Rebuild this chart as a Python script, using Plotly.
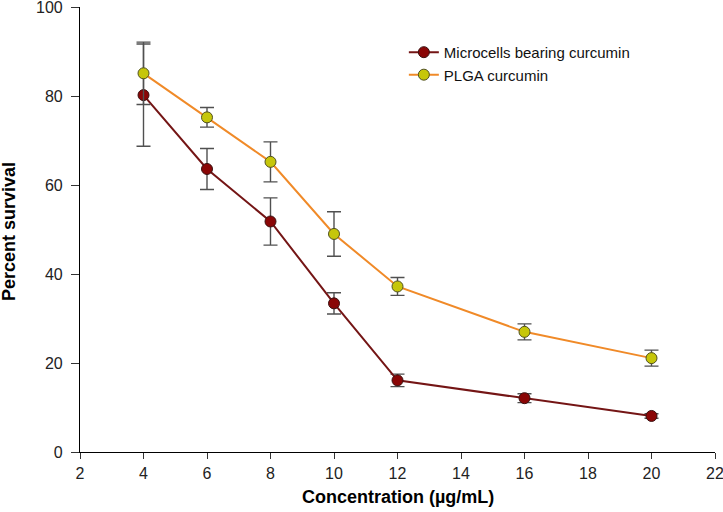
import plotly.graph_objects as go

concentration = [4, 6, 8, 10, 12, 16, 20]
micro_vals = [80.2, 63.6, 51.8, 33.4, 16.1, 12.1, 8.1]
micro_err = [11.5, 4.6, 5.3, 2.4, 1.4, 1.0, 0.5]
plga_vals = [85.1, 75.2, 65.2, 49.0, 37.2, 27.0, 21.1]
plga_err = [7.0, 2.2, 4.5, 5.0, 2.0, 1.8, 1.8]
x_ticks = [2, 4, 6, 8, 10, 12, 14, 16, 18, 20, 22]
y_ticks = [0, 20, 40, 60, 80, 100]

FONT = "Liberation Sans, Arial, sans-serif"

fig = go.Figure()
fig.add_trace(go.Scatter(
    x=concentration, y=micro_vals, name="Microcells bearing curcumin",
    mode="lines+markers",
    line=dict(color="#741515", width=2),
    marker=dict(size=11, color="#8a0606", line=dict(color="#3a1010", width=1)),
    error_y=dict(type="data", array=micro_err, color="#505050", thickness=1.4, width=7),
))
fig.add_trace(go.Scatter(
    x=concentration, y=plga_vals, name="PLGA curcumin",
    mode="lines+markers",
    line=dict(color="#f08a28", width=2),
    marker=dict(size=11, color="#c6c60a", line=dict(color="#505020", width=1)),
    error_y=dict(type="data", array=plga_err, color="#505050", thickness=1.4, width=7),
))

fig.update_layout(
    width=723, height=512,
    margin=dict(l=80, r=8, t=7, b=60, autoexpand=False),
    paper_bgcolor="white", plot_bgcolor="white",
    font=dict(family=FONT, color="#222222"),
    showlegend=True,
    legend=dict(x=0.51, y=0.935, xanchor="left", yanchor="top",
                font=dict(size=15, color="#111111", family=FONT), bgcolor="rgba(0,0,0,0)"),
    xaxis=dict(range=[2, 22], tickvals=x_ticks, showline=True, linecolor="black",
               linewidth=1.2, ticks="outside", ticklen=6, tickcolor="#333333", tickwidth=1.2,
               showgrid=False, zeroline=False, automargin=False, ticklabelstandoff=1,
               ticklabeloverflow="allow",
               tickfont=dict(size=16, color="#222222", family=FONT)),
    yaxis=dict(range=[0, 100], tickvals=y_ticks, showline=True, linecolor="black",
               linewidth=1.2, ticks="outside", ticklen=8, tickcolor="#333333", tickwidth=1.2,
               showgrid=False, zeroline=False, automargin=False, ticklabelstandoff=5,
               ticklabeloverflow="allow",
               tickfont=dict(size=16, color="#222222", family=FONT)),
    annotations=[
        dict(text="<b>Concentration (µg/mL)</b>", xref="paper", yref="paper",
             x=0.5, y=-0.1004, xanchor="center", yanchor="middle", showarrow=False,
             font=dict(size=18, color="black", family=FONT)),
        dict(text="<b>Percent survival</b>", xref="paper", yref="paper",
             x=-0.1129, y=0.495, xanchor="center", yanchor="middle", showarrow=False,
             textangle=-90, font=dict(size=18, color="black", family=FONT)),
    ],
)

fig.write_html("out.html", config={"displayModeBar": False})

# remove the default page margin so the figure sits at the window's top-left corner
with open("out.html", "r", encoding="utf-8") as f:
    html = f.read()
html = html.replace("<head>", "<head><style>html,body{margin:0;padding:0;overflow:hidden;}</style>", 1)
with open("out.html", "w", encoding="utf-8") as f:
    f.write(html)
